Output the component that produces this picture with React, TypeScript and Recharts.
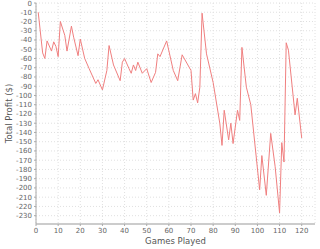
import { LineChart, Line, XAxis, YAxis, CartesianGrid } from 'recharts';

// vertices of the profit line (game, total profit $)
const games = [1, 3, 4, 5, 7, 8, 9, 10, 11, 13, 14, 16, 17, 19, 20, 22, 24, 27, 28, 30, 32, 33, 35, 38, 39, 40, 42, 43, 44, 45, 46, 48, 50, 52, 54, 55, 56, 59, 62, 64, 66, 70, 71, 72, 73, 74, 75, 77, 80, 83, 84, 85, 87, 88, 89, 91, 92, 93, 95, 97, 101, 102, 104, 106, 108, 110, 111, 112, 113, 114, 117, 118, 120];
const profit = [-10, -54, -60, -41, -52, -42, -47, -58, -20, -35, -52, -25, -37, -57, -39, -60, -71, -87, -83, -94, -73, -46, -67, -84, -64, -60, -71, -76, -67, -73, -64, -76, -71, -86, -75, -55, -58, -41, -73, -84, -56, -73, -105, -98, -108, -91, -11, -55, -86, -130, -154, -116, -148, -130, -152, -116, -127, -48, -91, -110, -202, -165, -208, -141, -177, -227, -151, -172, -43, -51, -121, -103, -146];
const xTicks = [0, 10, 20, 30, 40, 50, 60, 70, 80, 90, 100, 110, 120];
const yTicks = [0, -10, -20, -30, -40, -50, -60, -70, -80, -90, -100, -110, -120, -130, -140, -150, -160, -170, -180, -190, -200, -210, -220, -230];

const data = games.map((g, i) => ({ game: g, profit: profit[i] }));

const font = 'DejaVu Sans, sans-serif';
const tickStyle = { fontSize: 7, fill: '#666', fontFamily: font };

export default function App() {
  return (
    <div style={{ position: 'absolute', left: 0, top: 0, width: 320, height: 249, background: '#fff' }}>
      <LineChart width={320} height={249} data={data} margin={{ top: 3, right: 5, bottom: 0, left: 0 }}>
        <CartesianGrid stroke="#e0e0e0" strokeDasharray="1 2" horizontal vertical />
        <XAxis
          dataKey="game"
          type="number"
          domain={[0, 126]}
          ticks={xTicks}
          tick={tickStyle}
          tickSize={2}
          tickLine={{ stroke: '#aaa' }}
          axisLine={{ stroke: '#ccc', strokeWidth: 2 }}
          height={25}
          interval={0}
          label={{
            content: (p: any) => (
              <text x={p.viewBox.x + p.viewBox.width / 2} y={p.viewBox.y + 20} textAnchor="middle" fontSize={8.5} fill="#555" fontFamily={font}>
                Games Played
              </text>
            ),
          }}
        />
        <YAxis
          type="number"
          domain={[-239, 0]}
          ticks={yTicks}
          tick={tickStyle}
          tickSize={2}
          tickLine={{ stroke: '#aaa' }}
          axisLine={{ stroke: '#aaa' }}
          width={36}
          interval={0}
          label={{
            content: (p: any) => {
              const cx = 9;
              const cy = p.viewBox.y + p.viewBox.height / 2;
              return (
                <text x={cx} y={cy} transform={`rotate(-90 ${cx} ${cy})`} textAnchor="middle" dominantBaseline="central" fontSize={8.5} fill="#555" fontFamily={font}>
                  Total Profit ($)
                </text>
              );
            },
          }}
        />
        <XAxis xAxisId="top" orientation="top" type="number" domain={[0, 126]} height={0} tick={false} tickLine={false} axisLine={{ stroke: '#aaa' }} />
        <YAxis yAxisId="right" orientation="right" type="number" domain={[-239, 0]} width={0} tick={false} tickLine={false} axisLine={{ stroke: '#aaa' }} />
        <Line dataKey="profit" stroke="#f07f7f" strokeWidth={1} dot={false} isAnimationActive={false} />
      </LineChart>
    </div>
  );
}
